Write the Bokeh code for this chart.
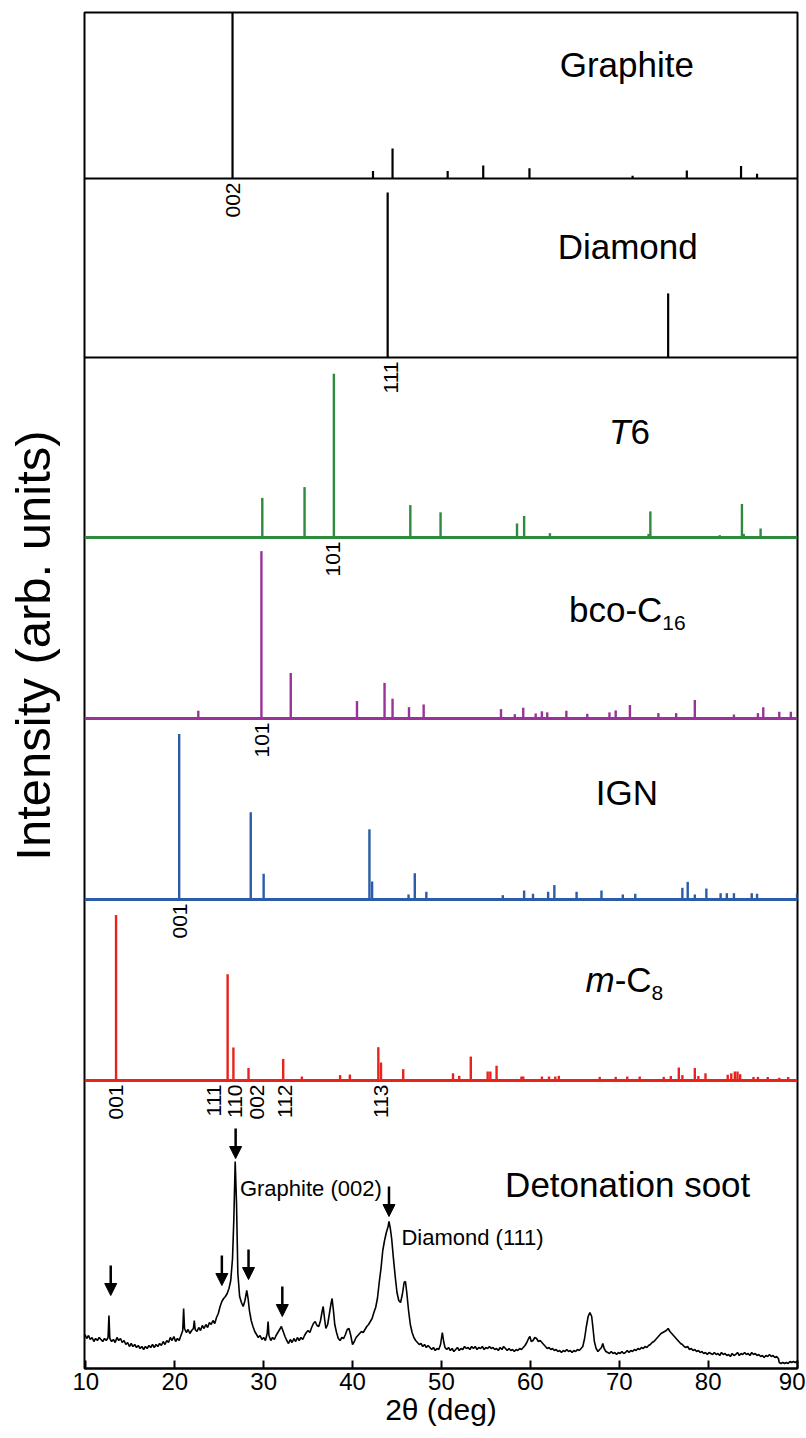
from bokeh.plotting import figure
from bokeh.layouts import row
from bokeh.models import Range1d, Span, Label, Arrow, NormalHead, FixedTicker
from bokeh.embed import file_html
from bokeh.resources import INLINE

FONT = "Liberation Sans"

# ---------------- data ----------------
x_ticks = [10, 20, 30, 40, 50, 60, 70, 80, 90]

# stacked panels, bottom to top (heights in px of frame)
panel_keys = ["soot", "mc8", "ign", "bco", "t6", "diamond", "graphite"]
panel_heights = [288, 181, 181, 181, 180, 179, 166]

graphite_x = [26.5, 42.3, 44.5, 50.7, 54.7, 59.9, 71.5, 77.6, 83.7, 85.5]
graphite_i = [93.0, 4.1, 16.7, 4.1, 7.2, 5.7, 1.5, 4.4, 6.9, 2.6]

diamond_x = [43.95, 75.5]
diamond_i = [91.6, 35.6]

t6_x = [29.85, 34.6, 37.9, 46.5, 49.9, 58.5, 59.3, 62.2, 73.3, 73.5, 81.3, 83.8, 84.0, 85.9]
t6_i = [22, 28, 91, 18, 14, 7.8, 12, 2.4, 2, 14.5, 1.3, 18.6, 2, 5]

bco_x = [22.65, 29.75, 33.05, 40.5, 43.6, 44.5, 46.35, 48.0, 56.7, 58.25, 59.2, 60.6, 61.3,
         61.9, 64.05, 66.4, 68.9, 69.6, 71.2, 74.4, 76.4, 78.5, 82.9, 85.6, 86.2, 88.0, 89.3]
bco_i = [4.3, 93, 25.3, 9.7, 19.8, 11, 6.3, 7.8, 5.2, 2.4, 6, 2.8, 4,
         3.4, 4.3, 2.6, 3.4, 4.5, 7.5, 3, 3, 10.3, 2.2, 3, 6.3, 3.7, 3.7]

ign_x = [20.5, 28.55, 30.0, 41.9, 42.2, 46.3, 47.0, 48.3, 56.9, 59.3, 60.3, 62.0, 62.7, 65.2,
         68.0, 70.4, 71.8, 77.1, 77.7, 78.5, 79.8, 81.4, 82.1, 82.9, 84.9, 85.5, 90.0]
ign_i = [92, 48.5, 14.3, 39, 10, 2.8, 14.6, 4.3, 2.4, 5, 3.2, 4.3, 8, 4.3,
         5, 2.8, 3.2, 6.5, 9.8, 2.8, 6.1, 3.5, 3.5, 3.5, 3.5, 3.2, 3.2]

mc8_x = [13.4, 25.95, 26.6, 28.3, 32.2, 34.3, 38.6, 39.7, 42.9, 43.2, 45.7, 51.3, 52.0, 53.3,
         55.2, 55.5, 56.2, 59.0, 59.2, 61.3, 62.1, 62.8, 63.2, 67.8, 69.6, 70.9, 72.3, 75.0,
         75.8, 76.7, 77.1, 78.5, 78.9, 79.7, 82.2, 82.6, 83.0, 83.3, 83.6, 85.1, 85.6, 86.7,
         88.0, 89.0]
mc8_i = [92, 59, 18.3, 6.9, 12, 2.2, 3, 3.3, 18.5, 10, 6.3, 4, 2.6, 13.3,
         5, 5, 8.2, 2.2, 2.2, 2.2, 2.2, 2.2, 2.6, 2, 2, 2.2, 2.2, 2,
         2.5, 7.2, 3, 6.9, 2.5, 4, 3.2, 4, 5, 5, 3.5, 2, 2, 2,
         1.5, 2]

soot_pts = [
    (9.9, 34), (10.1, 30), (10.3, 33), (10.5, 29), (10.7, 31), (10.9, 27), (11.1, 30), (11.3, 28),
    (11.5, 31), (11.7, 29), (11.9, 27), (12.1, 30), (12.3, 28), (12.5, 31), (12.6, 53), (12.7, 30),
    (12.9, 27), (13.1, 29), (13.3, 26), (13.5, 31), (13.7, 28), (13.9, 30), (14.1, 26), (14.3, 28),
    (14.5, 24), (14.7, 26), (14.9, 22), (15.1, 25), (15.3, 22), (15.5, 24), (15.7, 21), (15.9, 23),
    (16.1, 20), (16.3, 22), (16.5, 19), (16.7, 22), (16.9, 20), (17.1, 23), (17.3, 21), (17.5, 24),
    (17.7, 21), (17.9, 24), (18.1, 22), (18.3, 25), (18.5, 23), (18.7, 27), (18.9, 24), (19.1, 28),
    (19.3, 26), (19.5, 31), (19.7, 28), (19.9, 32), (20.1, 27), (20.3, 30), (20.5, 28), (20.7, 33),
    (20.9, 38), (21.0, 60), (21.1, 40), (21.3, 36), (21.5, 39), (21.7, 35), (21.9, 38), (22.1, 40),
    (22.2, 48), (22.3, 39), (22.5, 37), (22.7, 41), (22.9, 38), (23.1, 43), (23.3, 40), (23.5, 44),
    (23.7, 41), (23.9, 46), (24.1, 44), (24.3, 48), (24.5, 45), (24.7, 51), (24.9, 55), (25.1, 62),
    (25.3, 67), (25.5, 70), (25.7, 72), (25.9, 75), (26.1, 80), (26.3, 88), (26.5, 110), (26.65, 150),
    (26.8, 207), (26.95, 165), (27.1, 95), (27.3, 72), (27.5, 66), (27.7, 62), (27.9, 68), (28.1, 78),
    (28.25, 70), (28.4, 58), (28.6, 48), (28.8, 42), (29.0, 37), (29.2, 34), (29.4, 31), (29.6, 33),
    (29.8, 29), (30.0, 31), (30.2, 28), (30.4, 35), (30.5, 47), (30.6, 33), (30.8, 28), (31.0, 31),
    (31.2, 29), (31.4, 33), (31.6, 36), (31.8, 39), (32.0, 42), (32.2, 37), (32.4, 32), (32.6, 28),
    (32.8, 25), (33.0, 29), (33.2, 26), (33.4, 30), (33.6, 27), (33.8, 31), (34.0, 28), (34.2, 31),
    (34.4, 29), (34.6, 33), (34.8, 36), (35.0, 38), (35.2, 36), (35.4, 41), (35.6, 45), (35.8, 47),
    (36.0, 43), (36.2, 42), (36.4, 48), (36.6, 58), (36.7, 62), (36.85, 50), (37.0, 40), (37.2, 44),
    (37.4, 55), (37.6, 66), (37.7, 70), (37.85, 58), (38.0, 44), (38.2, 36), (38.4, 30), (38.6, 28),
    (38.8, 31), (39.0, 30), (39.2, 34), (39.4, 39), (39.6, 40), (39.8, 33), (40.0, 24), (40.2, 27),
    (40.4, 31), (40.6, 33), (40.8, 35), (41.0, 37), (41.2, 36), (41.4, 39), (41.6, 42), (41.8, 44),
    (42.0, 47), (42.2, 50), (42.4, 56), (42.6, 61), (42.8, 70), (43.0, 86), (43.2, 100), (43.4, 118),
    (43.6, 128), (43.8, 136), (44.0, 142), (44.1, 147), (44.25, 140), (44.4, 130), (44.6, 110),
    (44.8, 92), (45.0, 76), (45.2, 68), (45.4, 66), (45.6, 74), (45.8, 86), (45.95, 87), (46.1, 76),
    (46.3, 58), (46.5, 44), (46.7, 36), (46.9, 31), (47.1, 28), (47.3, 26), (47.5, 24), (47.7, 25),
    (47.9, 22), (48.1, 24), (48.3, 21), (48.5, 23), (48.7, 21), (48.9, 19), (49.1, 21), (49.3, 18),
    (49.5, 20), (49.7, 19), (49.9, 24), (50.1, 36), (50.25, 27), (50.4, 21), (50.6, 19), (50.8, 21),
    (51.0, 18), (51.2, 20), (51.4, 17), (51.6, 19), (51.8, 21), (52.0, 18), (52.2, 20), (52.4, 19),
    (52.6, 22), (52.8, 20), (53.0, 21), (53.2, 19), (53.4, 22), (53.6, 20), (53.8, 22), (54.0, 19),
    (54.2, 21), (54.4, 20), (54.6, 22), (54.8, 19), (55.0, 21), (55.2, 20), (55.4, 22), (55.6, 20),
    (55.8, 21), (56.0, 19), (56.2, 20), (56.4, 18), (56.6, 21), (56.8, 19), (57.0, 22), (57.2, 20),
    (57.4, 18), (57.6, 20), (57.8, 18), (58.0, 19), (58.2, 17), (58.4, 19), (58.6, 18), (58.8, 20),
    (59.0, 19), (59.2, 21), (59.4, 23), (59.6, 26), (59.8, 30), (59.95, 32), (60.1, 27), (60.3, 28),
    (60.5, 31), (60.7, 30), (60.9, 27), (61.1, 28), (61.3, 26), (61.5, 24), (61.7, 22), (61.9, 20),
    (62.1, 21), (62.3, 19), (62.5, 20), (62.7, 18), (62.9, 19), (63.1, 17), (63.3, 18), (63.5, 16),
    (63.7, 18), (63.9, 17), (64.1, 19), (64.3, 17), (64.5, 18), (64.7, 16), (64.9, 18), (65.1, 17),
    (65.3, 19), (65.5, 18), (65.7, 20), (65.9, 22), (66.1, 30), (66.3, 42), (66.5, 52), (66.7, 56),
    (66.9, 52), (67.05, 40), (67.2, 27), (67.4, 20), (67.6, 17), (67.8, 19), (68.0, 21), (68.15, 25),
    (68.3, 20), (68.5, 17), (68.7, 16), (68.9, 15), (69.1, 17), (69.3, 15), (69.5, 16), (69.7, 14),
    (69.9, 16), (70.1, 15), (70.3, 17), (70.5, 15), (70.7, 16), (70.9, 18), (71.1, 16), (71.3, 18),
    (71.5, 17), (71.7, 19), (71.9, 18), (72.1, 20), (72.3, 19), (72.5, 21), (72.7, 20), (72.9, 22),
    (73.1, 21), (73.3, 23), (73.5, 24), (73.7, 26), (73.9, 27), (74.1, 29), (74.3, 31), (74.5, 33),
    (74.7, 35), (74.9, 36), (75.1, 37), (75.3, 38), (75.5, 40), (75.7, 37), (75.9, 35), (76.1, 33),
    (76.3, 31), (76.5, 29), (76.7, 27), (76.9, 25), (77.1, 24), (77.3, 22), (77.5, 21), (77.7, 22),
    (77.9, 19), (78.1, 20), (78.3, 18), (78.5, 19), (78.7, 17), (78.9, 18), (79.1, 16), (79.3, 17),
    (79.5, 15), (79.7, 16), (79.9, 14), (80.1, 16), (80.3, 15), (80.5, 14), (80.7, 16), (80.9, 14),
    (81.1, 15), (81.3, 13), (81.5, 16), (81.7, 14), (81.9, 15), (82.1, 13), (82.3, 14), (82.5, 12),
    (82.7, 15), (82.9, 13), (83.1, 14), (83.3, 16), (83.5, 13), (83.7, 15), (83.9, 14), (84.1, 16),
    (84.3, 14), (84.5, 15), (84.7, 13), (84.9, 16), (85.1, 14), (85.3, 15), (85.5, 13), (85.7, 14),
    (85.9, 12), (86.1, 13), (86.3, 11), (86.5, 13), (86.7, 12), (86.9, 14), (87.1, 12), (87.3, 13),
    (87.5, 11), (87.7, 12), (87.9, 10), (88.0, 6), (88.2, 5), (88.4, 6), (88.6, 5), (88.8, 6),
    (89.0, 5), (89.2, 7), (89.4, 6), (89.6, 7), (89.8, 6), (90.0, 7), (90.1, 7),
]
soot_x = [a for a, b in soot_pts]
soot_y = [b for a, b in soot_pts]

# arrows on the soot pattern: x, tail height, tip height
arrow_x = [12.8, 25.3, 28.3, 32.1, 26.85, 44.1]
arrow_tail = [103, 113, 119, 82, 240, 182]
arrow_tip = [73, 83, 89, 52, 210, 152]

# peak annotations in soot panel
soot_ann_text = ["Graphite (002)", "Diamond (111)"]
soot_ann_x = [27.33, 45.5]
soot_ann_y = [180, 131]

# Miller index labels (key of the pattern they belong to)
hkl_key = ["graphite", "diamond", "t6", "bco", "ign", "mc8", "mc8", "mc8", "mc8", "mc8", "mc8"]
hkl_text = ["002", "111", "101", "101", "001", "001", "111", "110", "002", "112", "113"]
hkl_x = [26.5, 44.3, 37.8, 29.8, 20.6, 13.4, 24.4, 26.8, 29.25, 32.35, 43.15]

Y_TITLE = "Intensity (arb. units)"

# ---------------- layout helpers ----------------
bases = {}
acc = 0
for k, h in zip(panel_keys, panel_heights):
    bases[k] = acc
    acc += h
TOTAL = acc
SCALE = 1.8  # px per % intensity

X_MIN, X_MAX = 9.85, 90.05
LEFT_W = 70

# left strip holding the shared y title
left = figure(frame_width=LEFT_W, frame_height=TOTAL, x_range=Range1d(0, LEFT_W),
              y_range=Range1d(0, TOTAL), output_backend="svg", toolbar_location=None,
              min_border_left=0, min_border_right=0, min_border_top=12, min_border_bottom=0)
left.axis.visible = False
left.xgrid.visible = False
left.ygrid.visible = False
left.outline_line_color = None
left.add_layout(Label(x=32, y=723, text=Y_TITLE, angle=90, angle_units="deg",
                      text_font=FONT, text_font_size="49px", text_color="black",
                      text_align="center", text_baseline="alphabetic"))

p = figure(frame_width=713, frame_height=TOTAL,
           x_range=Range1d(X_MIN, X_MAX), y_range=Range1d(0, TOTAL),
           output_backend="svg", toolbar_location=None,
           min_border_left=14, min_border_right=8, min_border_top=12, min_border_bottom=60)
p.xgrid.visible = False
p.ygrid.visible = False
p.yaxis.visible = False
p.outline_line_color = "black"
p.outline_line_width = 2
p.outline_line_alpha = 1
p.background_fill_color = "white"
p.border_fill_color = "white"

xa = p.xaxis[0]
xa.ticker = FixedTicker(ticks=x_ticks)
xa.major_tick_in = 8
xa.major_tick_out = 0
xa.minor_tick_line_color = None
xa.axis_line_width = 2
xa.axis_line_color = "black"
xa.major_tick_line_width = 2
xa.major_tick_line_color = "black"
xa.major_label_text_font = FONT
xa.major_label_text_font_size = "24px"
xa.major_label_text_color = "black"
xa.major_label_standoff = 4
xa.axis_label = "2θ (deg)"
xa.axis_label_text_font = FONT
xa.axis_label_text_font_size = "30px"
xa.axis_label_text_font_style = "normal"
xa.axis_label_text_color = "black"
xa.axis_label_standoff = 0

patterns = [
    ("graphite", graphite_x, graphite_i, "black", 2.2),
    ("diamond", diamond_x, diamond_i, "black", 2.2),
    ("t6", t6_x, t6_i, "#2e8b3e", 2.4),
    ("bco", bco_x, bco_i, "#993399", 2.4),
    ("ign", ign_x, ign_i, "#2a5caa", 2.4),
    ("mc8", mc8_x, mc8_i, "#e8231c", 2.4),
]
for key, xs, ins, col, lw in patterns:
    b = bases[key]
    p.segment(x0=xs, y0=[b] * len(xs), x1=xs, y1=[b + v * SCALE for v in ins],
              line_color=col, line_width=lw)
    p.add_layout(Span(location=b, dimension="width", line_color=col,
                      line_width=3 if col != "black" else 2.2))

# soot pattern
p.line(soot_x, soot_y, line_color="black", line_width=1.6)

for ax, t0, t1 in zip(arrow_x, arrow_tail, arrow_tip):
    p.add_layout(Arrow(end=NormalHead(size=12, fill_color="black", line_color="black", line_width=1),
                       x_start=ax, y_start=t0, x_end=ax, y_end=t1,
                       line_color="black", line_width=2.5))

for t, x, y in zip(soot_ann_text, soot_ann_x, soot_ann_y):
    p.add_layout(Label(x=x, y=y, text=t, text_font=FONT, text_font_size="22px",
                       text_color="black", text_align="left", text_baseline="alphabetic"))

# Miller index labels under each pattern's baseline
for k, t, x in zip(hkl_key, hkl_text, hkl_x):
    p.add_layout(Label(x=x, y=bases[k] - 4, text=t, text_font=FONT, text_font_size="21px",
                       angle=90, angle_units="deg", text_align="right", text_baseline="middle",
                       text_color="black"))

# panel titles: (key, pieces[(text, style, size, x_offset_px, y_offset_px)], x, height above base)
title_specs = [
    ("graphite", [("Graphite", "normal", 35, 0, 0)], 70.85, 114, "center"),
    ("diamond", [("Diamond", "normal", 35, 0, 0)], 70.95, 111, "center"),
    ("t6", [("T", "italic", 35, 0, 0), ("6", "normal", 35, 21.4, 0)], 68.86, 106, "left"),
    ("bco", [("bco-C", "normal", 35, 0, 0), ("16", "normal", 21, 93.3, -13)], 64.35, 109, "left"),
    ("ign", [("IGN", "normal", 35, 0, 0)], 70.85, 107, "center"),
    ("mc8", [("m", "italic", 35, 0, 0), ("-C", "normal", 35, 29.2, 0), ("8", "normal", 21, 66.1, -13)],
     66.2, 101, "left"),
    ("soot", [("Detonation soot", "normal", 35, 0, 0)], 70.95, 184, "center"),
]
for key, pieces, x, hy, align in title_specs:
    for text, style, size, xo, yo in pieces:
        p.add_layout(Label(x=x, y=bases[key] + hy + yo, x_offset=xo, text=text,
                           text_font=FONT, text_font_size=f"{size}px", text_font_style=style,
                           text_color="black", text_align=align, text_baseline="alphabetic"))

layout = row(left, p)
open("out.html", "w").write(file_html(layout, INLINE))
